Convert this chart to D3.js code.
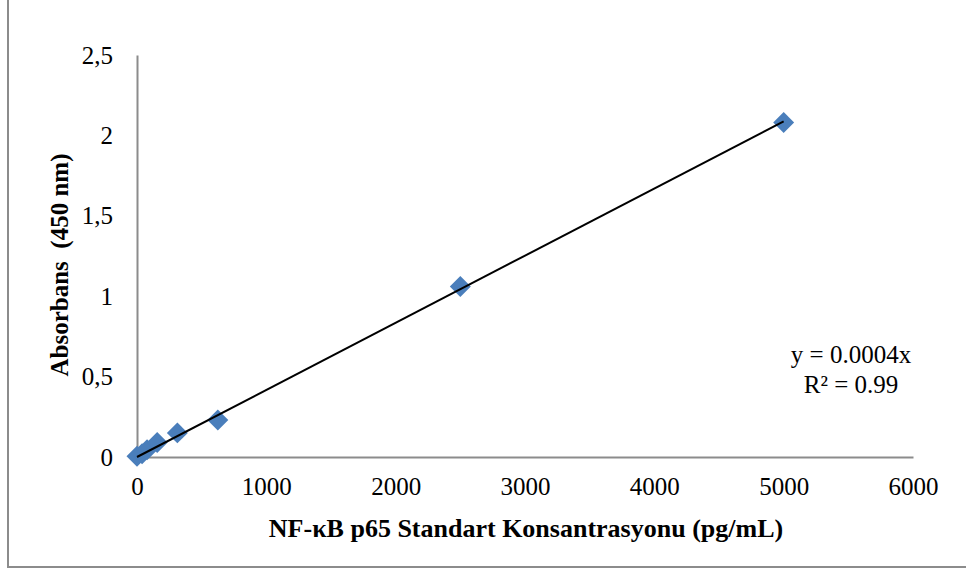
<!DOCTYPE html>
<html>
<head>
<meta charset="utf-8">
<script src="https://cdn.jsdelivr.net/npm/d3@7"></script>
<style>
  body { margin: 0; background: #fff; }
  text { font-family: "Liberation Serif", "Times New Roman", serif; }
</style>
</head>
<body>
<div id="chart"></div>
<script>
// standard curve readings (concentration pg/mL, absorbance 450 nm)
const concentrations = [0, 39, 78, 156, 312, 625, 2500, 5000];
const absorbances = [0.005, 0.02, 0.045, 0.09, 0.15, 0.23, 1.06, 2.08];
const xTicks = [0, 1000, 2000, 3000, 4000, 5000, 6000];
const yTicks = [0, 0.5, 1, 1.5, 2, 2.5];
const equationLines = ["y = 0.0004x", "R\u00b2 = 0.99"];

const width = 966;
const height = 579;
const margin = { top: 55, left: 137, bottom: 122, right: 53 };

const svg = d3.select("#chart")
  .append("svg")
  .attr("width", width)
  .attr("height", height);

// outer frame
svg.append("rect")
  .attr("x", 8)
  .attr("y", -10)
  .attr("width", 1000)
  .attr("height", 577)
  .attr("fill", "none")
  .attr("stroke", "#8c8c8c")
  .attr("stroke-width", 2);

const x = d3.scaleLinear()
  .domain([0, 6000])
  .range([margin.left, width - margin.right]);

const y = d3.scaleLinear()
  .domain([0, 2.5])
  .range([height - margin.bottom, margin.top]);

const comma = d3.formatLocale({ decimal: ",", thousands: ".", grouping: [3], currency: ["", ""] });

const xAxis = svg.append("g")
  .attr("transform", `translate(0,${y(0)})`)
  .call(d3.axisBottom(x).tickValues(xTicks).tickSize(0).tickPadding(20).tickFormat(d3.format("d")));

const yAxis = svg.append("g")
  .attr("transform", `translate(${x(0)},0)`)
  .call(d3.axisLeft(y).tickValues(yTicks).tickSize(0).tickPadding(24).tickFormat(comma.format("~g")));

[xAxis, yAxis].forEach(g => {
  g.select(".domain").attr("stroke", "#8c8c8c").attr("stroke-width", 2);
  g.selectAll("text")
    .attr("fill", "#000")
    .style("font-family", "'Liberation Serif', 'Times New Roman', serif")
    .style("font-size", "25px");
});

// linear trendline through origin (least squares)
const slope = d3.sum(concentrations, (c, i) => c * absorbances[i]) /
  d3.sum(concentrations, c => c * c);
const trendX = [0, d3.max(concentrations)];

// diamond markers
const diamond = d3.symbol().type(d3.symbolSquare).size(220);
svg.selectAll(".pt")
  .data(concentrations)
  .enter()
  .append("path")
  .attr("class", "pt")
  .attr("d", diamond)
  .attr("transform", (d, i) => `translate(${x(d)},${y(absorbances[i])}) rotate(45)`)
  .attr("fill", "#4a7ebb");

// trendline drawn over the markers
svg.append("path")
  .datum(trendX)
  .attr("fill", "none")
  .attr("stroke", "#000")
  .attr("stroke-width", 2)
  .attr("d", d3.line().x(d => x(d)).y(d => y(slope * d)));

// equation label
svg.append("g")
  .selectAll("text")
  .data(equationLines)
  .enter()
  .append("text")
  .attr("x", 851)
  .attr("y", (d, i) => 363 + i * 30)
  .attr("text-anchor", "middle")
  .style("font-size", "25px")
  .text(d => d);

// axis titles
svg.append("text")
  .attr("x", 526)
  .attr("y", 537)
  .attr("text-anchor", "middle")
  .style("font-size", "26px")
  .style("font-weight", "bold")
  .text("NF-\u03baB p65 Standart Konsantrasyonu (pg/mL)");

svg.append("text")
  .attr("transform", "translate(68,265) rotate(-90)")
  .attr("text-anchor", "middle")
  .style("font-size", "25px")
  .style("font-weight", "bold")
  .style("white-space", "pre")
  .attr("xml:space", "preserve")
  .text("Absorbans  (450 nm)");
</script>
</body>
</html>
